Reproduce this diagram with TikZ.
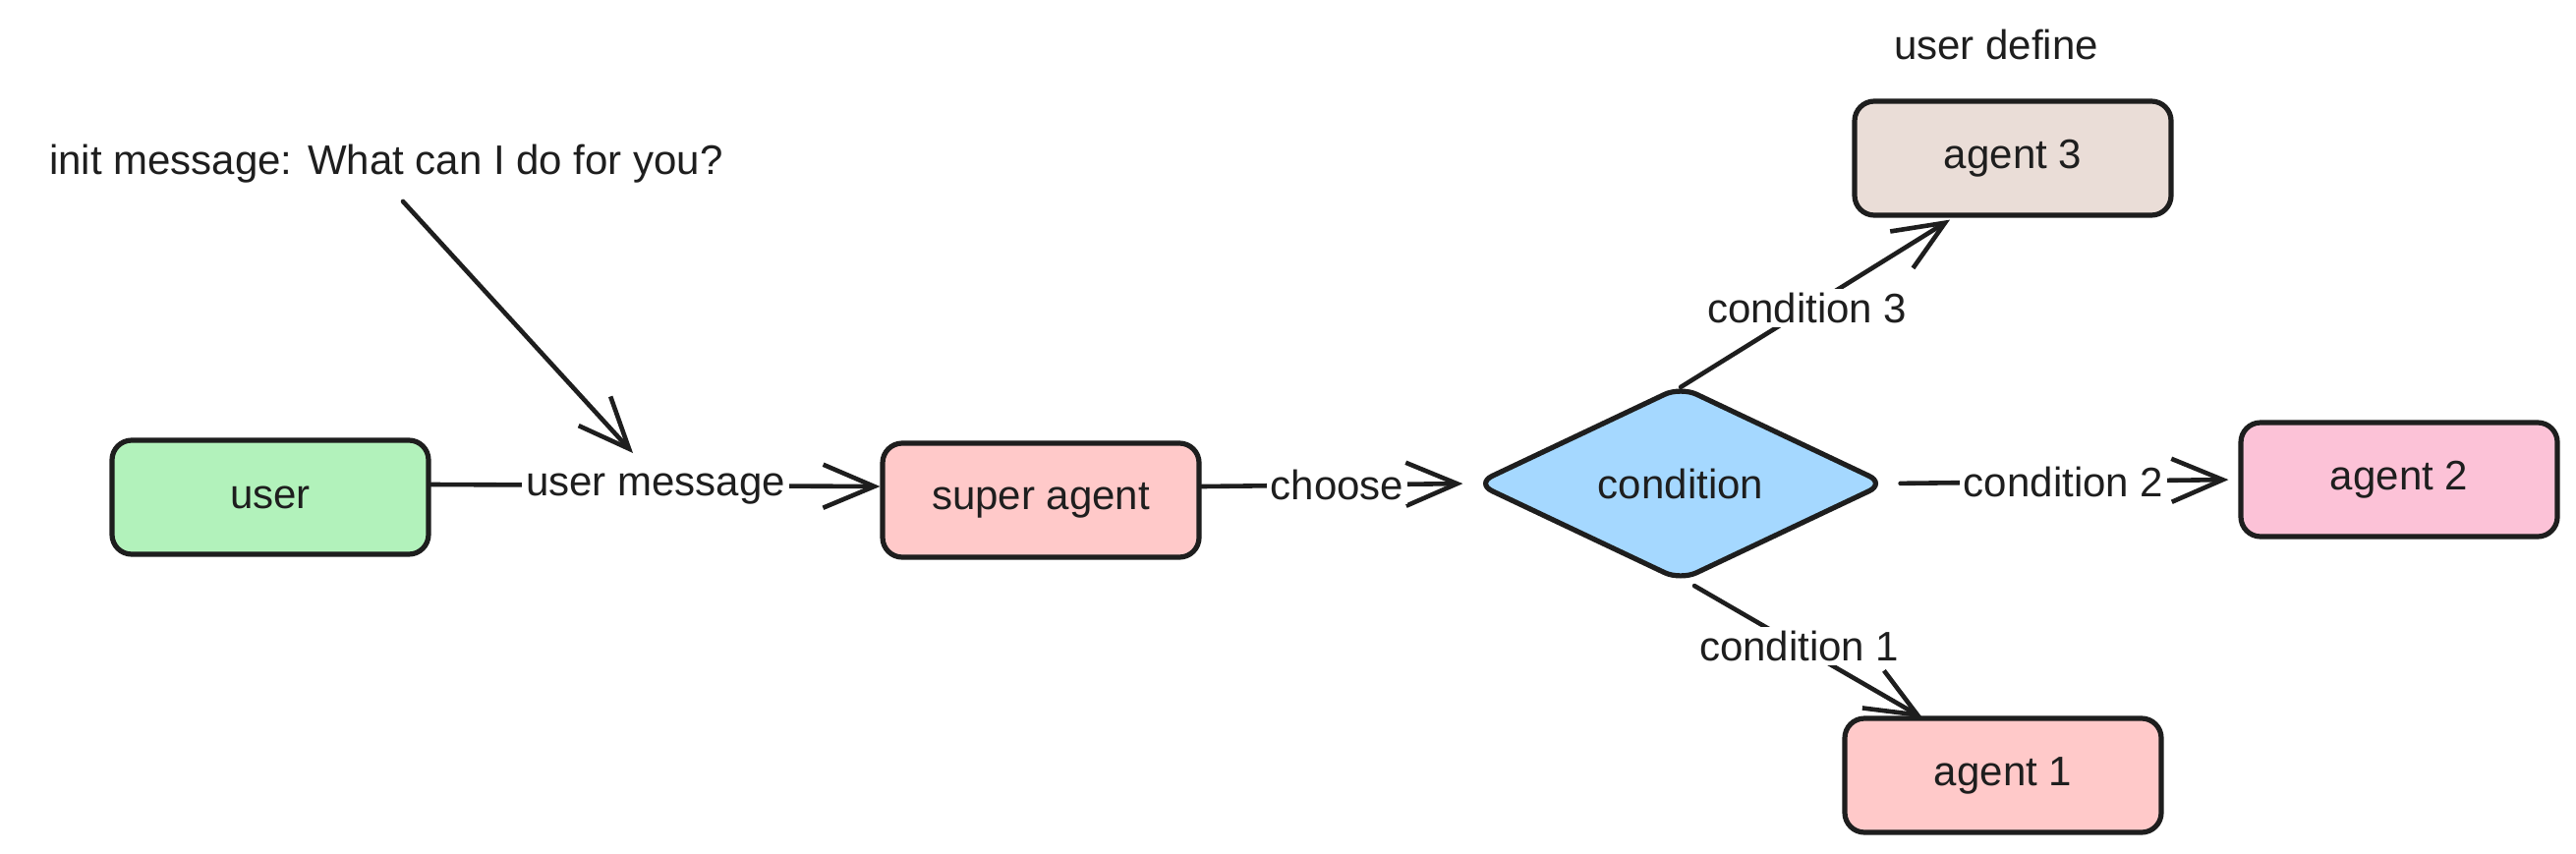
\documentclass[tikz,border=0pt]{standalone}
\usepackage{fontspec}
\setmainfont{Liberation Sans}
\usetikzlibrary{arrows.meta,shapes.geometric,calc}
\definecolor{ink}{HTML}{1E1E1E}
\definecolor{cgreen}{HTML}{B2F2BB}
\definecolor{cred}{HTML}{FFC9C9}
\definecolor{cblue}{HTML}{A5D8FF}
\definecolor{cbrown}{HTML}{EADDD7}
\definecolor{cpink}{HTML}{FCC2D7}
\begin{document}
\begin{tikzpicture}[x=0.5pt,y=-0.5pt,
  font=\fontsize{21}{25}\selectfont,
  box/.style={draw=ink, line width=2.6pt, rounded corners=10pt, minimum width=161pt, minimum height=58pt, inner sep=0pt, text=ink},
  diam/.style={diamond, draw=ink, line width=2.6pt, rounded corners=9pt, minimum width=209pt, minimum height=86pt, inner sep=0pt, fill=cblue, text=ink},
  conn/.style={draw=ink, line width=2.3pt, line cap=round, -{Straight Barb[length=26pt,width=22pt,line width=2.3pt]}},
  lbl/.style={fill=white, inner sep=2pt, text=ink},
  plain/.style={inner sep=0pt, text=ink}]
\fill[white] (0,0) rectangle (2621,868);
\useasboundingbox (0,0) rectangle (2621,868);

\node[box, fill=cgreen] (user) at (275,506) {user};
\node[box, fill=cred] (super) at (1059,509) {super agent};
\node[diam] (cond) at (1710,492) {condition};
\node[box, fill=cbrown] (a3) at (2048,161) {agent 3};
\node[box, fill=cpink] (a2) at (2441,488) {agent 2};
\node[box, fill=cred] (a1) at (2038,789) {agent 1};
\node[plain] (def) at (2031,45) {user define};
\node[plain] (init) at (393,167) {init message: What can I do for you?};
\coordinate (tipU) at (644,461);

\draw[conn] ([yshift=6.5pt]user.east) -- node[lbl, yshift=-2pt] {user message} ([yshift=7pt]super.west);
\draw[conn, shorten >=5pt] ([yshift=7pt]super.east) -- node[lbl] {choose} (cond.west);
\draw[conn, shorten <=6pt, shorten >=5pt] (cond.east) -- node[lbl] {condition 2} (a2.west);
\draw[conn] ([yshift=-2pt]cond.north) -- node[lbl, pos=0.47] {condition 3} ([xshift=-32pt,yshift=-1pt]a3.south);
\draw[conn] ([xshift=7pt,yshift=-1pt]cond.south) -- node[lbl, pos=0.46] {condition 1} ([xshift=-41pt,yshift=-1pt]a1.north);
\draw[conn] ([xshift=8.5pt,yshift=-9pt]init.south) -- (tipU);
\end{tikzpicture}
\end{document}
